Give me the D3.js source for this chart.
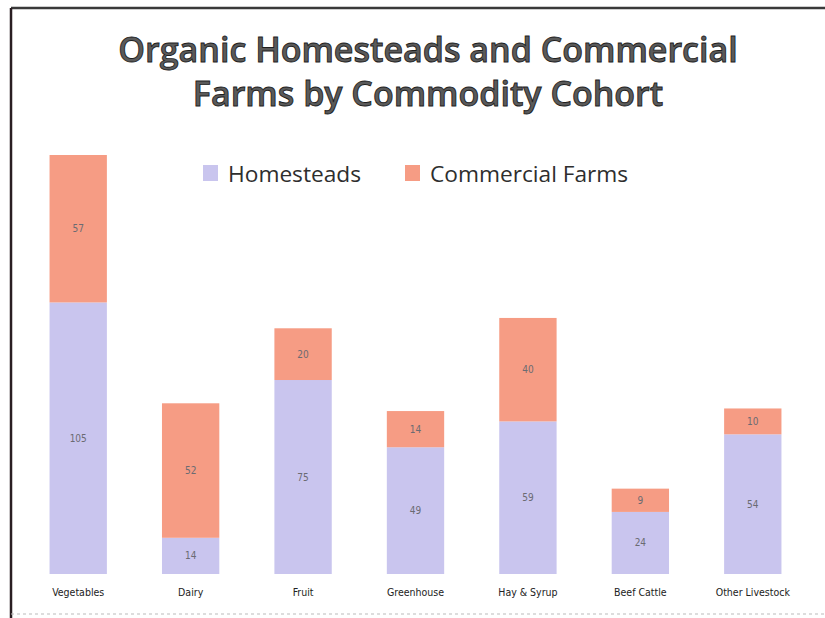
<!DOCTYPE html>
<html>
<head>
<meta charset="utf-8">
<script src="https://cdn.jsdelivr.net/npm/d3@7"></script>
<style>
  html, body { margin: 0; padding: 0; background: #fff; }
  svg { display: block; }
</style>
</head>
<body>
<svg id="chart" width="825" height="618"></svg>
<script>
// Farm counts per commodity cohort
const categories = ["Vegetables", "Dairy", "Fruit", "Greenhouse", "Hay & Syrup", "Beef Cattle", "Other Livestock"];
const homesteads = [105, 14, 75, 49, 59, 24, 54];
const commercialFarms = [57, 52, 20, 14, 40, 9, 10];
const seriesNames = ["Homesteads", "Commercial Farms"];
const seriesColors = ["#c9c5ee", "#f69c84"];

const svg = d3.select("#chart");
const W = 825, H = 618;

// Frame lines along the top and left edges
svg.append("line").attr("x1", 11).attr("x2", W).attr("y1", 8).attr("y2", 8)
  .attr("stroke", "#3a3a3a").attr("stroke-width", 2.5);
svg.append("line").attr("x1", 11).attr("x2", 11).attr("y1", 8).attr("y2", H)
  .attr("stroke", "#2a1e22").attr("stroke-width", 2.5);
svg.append("line").attr("x1", 11).attr("x2", W).attr("y1", 614).attr("y2", 614)
  .attr("stroke", "#bbb").attr("stroke-width", 1).attr("stroke-dasharray", "3,3");

// Title
const title = svg.append("text")
  .attr("text-anchor", "middle")
  .attr("font-family", "'Open Sans', sans-serif")
  .attr("font-weight", 600)
  .attr("font-size", 34)
  .attr("fill", "#5a5a5a")
  .attr("stroke", "#1e1e1e").attr("stroke-width", 0.9);
title.append("tspan").attr("x", 428).attr("y", 62).text("Organic Homesteads and Commercial");
title.append("tspan").attr("x", 428).attr("y", 106).text("Farms by Commodity Cohort");

// Data table for stacking
const rows = categories.map((c, i) => ({ category: c, Homesteads: homesteads[i], "Commercial Farms": commercialFarms[i] }));
const stacked = d3.stack().keys(seriesNames)(rows);

const x = d3.scaleBand().domain(categories).range([22, 809]).paddingInner(0.49).paddingOuter(0.245);
const y = d3.scaleLinear().domain([0, 162]).range([574, 155]);
const color = d3.scaleOrdinal().domain(seriesNames).range(seriesColors);

const layers = svg.append("g").selectAll("g").data(stacked).join("g")
  .attr("fill", d => color(d.key));

layers.selectAll("rect").data(d => d).join("rect")
  .attr("x", d => x(d.data.category))
  .attr("width", x.bandwidth())
  .attr("y", d => y(d[1]))
  .attr("height", d => y(d[0]) - y(d[1]));

// Segment value labels
layers.selectAll("text").data(d => d.map(v => ({ v, key: d.key }))).join("text")
  .attr("x", d => x(d.v.data.category) + x.bandwidth() / 2)
  .attr("y", d => (y(d.v[0]) + y(d.v[1])) / 2 + 3.5)
  .attr("text-anchor", "middle")
  .attr("font-family", "'Liberation Sans Narrow', 'DejaVu Sans Condensed', sans-serif")
  .attr("font-size", 10)
  .attr("fill", "#6b6b72")
  .text(d => d.v.data[d.key]);

// Category axis labels
const xAxis = d3.axisBottom(x).tickSize(0).tickPadding(0);
const ax = svg.append("g").attr("transform", "translate(0,589)").call(xAxis);
ax.select(".domain").remove();
ax.selectAll("text")
  .attr("font-family", "'Liberation Sans Narrow', 'DejaVu Sans Condensed', sans-serif")
  .attr("font-size", 10.5)
  .attr("fill", "#222")
  .attr("dy", "0.71em");

// Legend
const legendItems = [
  { name: seriesNames[0], sx: 203, tx: 228 },
  { name: seriesNames[1], sx: 405, tx: 430 }
];
const lg = svg.append("g").selectAll("g").data(legendItems).join("g");
lg.append("rect").attr("x", d => d.sx).attr("y", 165).attr("width", 15).attr("height", 16)
  .attr("fill", d => color(d.name));
lg.append("text").attr("x", d => d.tx).attr("y", 182)
  .attr("font-family", "'Open Sans', sans-serif")
  .attr("font-size", 22.7)
  .attr("fill", "#2e2e2e")
  .text(d => d.name);
</script>
</body>
</html>
